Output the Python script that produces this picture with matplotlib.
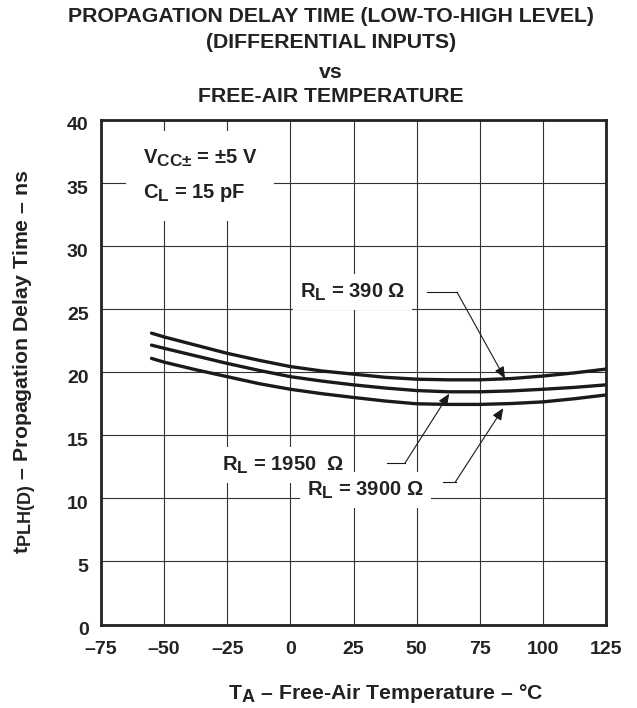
import matplotlib
matplotlib.use("Agg")
import matplotlib.pyplot as plt
import matplotlib.transforms as mtransforms
import matplotlib._mathtext as _mt

_mt.SHRINK_FACTOR = 0.85

plt.rcParams['font.family'] = ['Liberation Sans', 'DejaVu Sans']
plt.rcParams['font.weight'] = 'bold'
plt.rcParams['mathtext.fontset'] = 'custom'
plt.rcParams['mathtext.rm'] = 'Liberation Sans:bold'
plt.rcParams['mathtext.it'] = 'Liberation Sans:bold'
plt.rcParams['mathtext.bf'] = 'Liberation Sans:bold'
plt.rcParams['mathtext.sf'] = 'Liberation Sans'

# ---- data ----
temps = [-55, -50, -37.5, -25, -12.5, 0, 12.5, 25, 37.5, 50, 62.5, 75, 87.5, 100, 112.5, 125]
delay_390 = [23.1, 22.8, 22.15, 21.5, 20.95, 20.45, 20.1, 19.85, 19.6, 19.45, 19.4, 19.4, 19.5, 19.7, 19.95, 20.25]
delay_1950 = [22.15, 21.9, 21.3, 20.7, 20.15, 19.65, 19.3, 19.0, 18.75, 18.55, 18.45, 18.45, 18.52, 18.65, 18.8, 19.0]
delay_3900 = [21.1, 20.8, 20.2, 19.65, 19.1, 18.65, 18.3, 18.0, 17.72, 17.5, 17.45, 17.45, 17.52, 17.65, 17.9, 18.2]

x_ticks = [-75, -50, -25, 0, 25, 50, 75, 100, 125]
x_ticklabels = ['\u201375', '\u201350', '\u201325', '0', '25', '50', '75', '100', '125']
y_ticks = [0, 5, 10, 15, 20, 25, 30, 35, 40]
y_ticklabels = ['0', '5', '10', '15', '20', '25', '30', '35', '40']

title_lines = ['PROPAGATION DELAY TIME (LOW-TO-HIGH LEVEL)', '(DIFFERENTIAL INPUTS)', 'vs', 'FREE-AIR TEMPERATURE']

fig = plt.figure(figsize=(6.37, 7.08), dpi=100)
ax = fig.add_axes([101/637, (708-624.5)/708, 505/637, 504.5/708])

ax.set_xlim(-75, 125)
ax.set_ylim(0, 40)
ax.set_xticks(x_ticks)
ax.set_xticklabels(x_ticklabels, fontsize=14, fontweight='bold')
ax.set_yticks(y_ticks)
ax.set_yticklabels(y_ticklabels, fontsize=14, fontweight='bold')
ax.tick_params(axis='both', length=0, colors='#222222')
ax.tick_params(axis='x', pad=12)
ax.tick_params(axis='y', pad=9)
off = mtransforms.ScaledTranslation(0, -4/100, fig.dpi_scale_trans)
for lab in ax.get_yticklabels():
    lab.set_transform(lab.get_transform() + off)

ax.grid(True, color='#333333', linewidth=0.8)
ax.set_axisbelow(True)
for s in ax.spines.values():
    s.set_linewidth(2.0)
    s.set_color('#222222')
    s.set_zorder(5)

for series in (delay_390, delay_1950, delay_3900):
    ax.plot(temps, series, color='#1a1a1a', linewidth=2.4, solid_capstyle='round', zorder=3)

# title
for i, line in enumerate(title_lines):
    fig.text(331/637, 1 - [17, 43, 72, 97][i]/708, line, ha='center', va='center',
             fontsize=15.3, fontweight='bold', color='#222222')

ax.set_xlabel(r'T$_{A}$' + ' \u2013 Free-Air Temperature \u2013 ' + r'$\mathsf{\degree}$C',
              fontsize=15.3, fontweight='bold', color='#222222')
ax.xaxis.set_label_coords(0.564, -0.114)
ax.set_ylabel(r't$_{PLH(D)}$' + ' \u2013 Propagation Delay Time \u2013 ns',
              fontsize=15.3, fontweight='bold', color='#222222')
ax.yaxis.set_label_coords(-0.125, 0.52)

# condition box
ax.text(-58.4, 35.6, r'V$_{CC\mathsf{\pm}}$ = $\mathsf{\pm}$5 V' + '\n' + r'C$_{L}$ = 15 pF',
        fontsize=14.5, fontweight='bold', ha='left', va='center', linespacing=1.8,
        color='#222222',
        bbox=dict(facecolor='white', edgecolor='none', boxstyle='square,pad=0.85'), zorder=4)

lab_kw = dict(fontsize=14.5, fontweight='bold', ha='left', va='center', zorder=4, color='#222222',
              bbox=dict(facecolor='white', edgecolor='none', boxstyle='square,pad=0.35'))
ax.text(3.8, 26.37, r'R$_{L}$ = 390 $\mathsf{\Omega}$', **lab_kw)
ax.text(-27.1, 12.65, r'R$_{L}$ = 1950  $\mathsf{\Omega}$', **lab_kw)
ax.text(6.6, 10.67, r'R$_{L}$ = 3900 $\mathsf{\Omega}$', **lab_kw)

arrow_kw = dict(arrowstyle='-|>,head_length=0.7,head_width=0.3', color='#1a1a1a',
                lw=0.8, shrinkA=0, shrinkB=0)
leaders = [((54.1, 66.0), 26.35, (85.0, 19.5)),
           ((38.3, 45.4), 12.8, (62.9, 18.3)),
           ((60.6, 65.4), 11.32, (84.3, 17.15))]
for (xa, xb), yl, tip in leaders:
    ax.plot([xa, xb], [yl, yl], color='#1a1a1a', lw=0.8, zorder=4)
    ax.annotate('', xy=tip, xytext=(xb, yl), arrowprops=arrow_kw, zorder=4)

fig.savefig('out.png', dpi=100, facecolor='white')
